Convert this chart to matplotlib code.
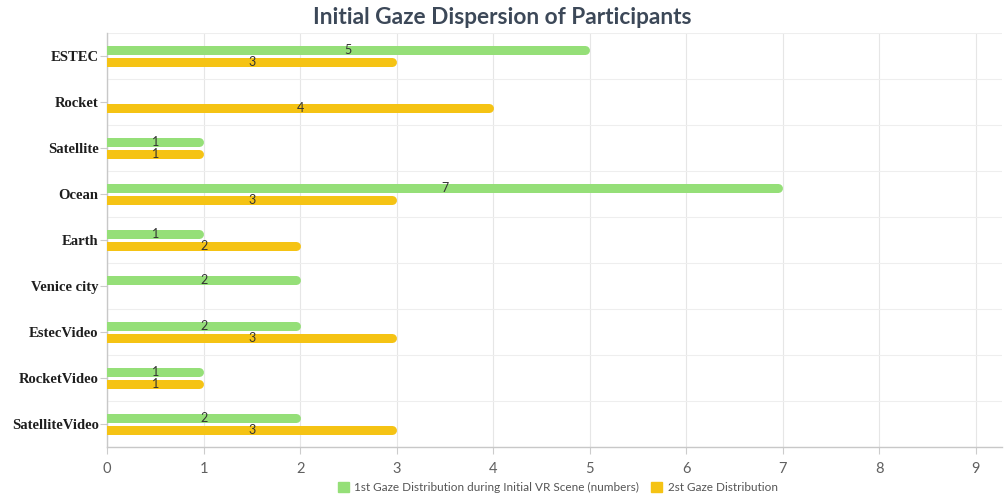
import numpy as np
import matplotlib
matplotlib.use("Agg")
import matplotlib.pyplot as plt
from matplotlib.patches import FancyBboxPatch

# data (top to bottom as shown)
categories = ["ESTEC", "Rocket", "Satellite", "Ocean", "Earth",
              "Venice city", "EstecVideo", "RocketVideo", "SatelliteVideo"]
first_gaze = [5, None, 1, 7, 1, 2, 2, 1, 2]
second_gaze = [3, 4, 1, 3, 2, None, 3, 1, 3]
series_names = ["1st Gaze Distribution during Initial VR Scene (numbers)",
                "2st Gaze Distribution"]
x_ticks = [0, 1, 2, 3, 4, 5, 6, 7, 8, 9]

green = "#95df78"
yellow = "#f5c314"

fig = plt.figure(figsize=(10.05, 5.04), dpi=100)
ax = fig.add_axes([0.1065, 0.113, 0.8905, 0.8215])

xmax = 9.27
ax.set_xlim(0, xmax)
n = len(categories)
ax.set_ylim(n - 0.5, -0.5)

# pixel geometry to get round end caps ending exactly at the value
ax_w_px = 0.8905 * 1005
px_per_unit = ax_w_px / xmax
bar_px = 9
lw_pt = bar_px * 72 / 100
cap = (bar_px / 2) / px_per_unit

y = np.arange(n)
offset = 0.13
for vals, col, dy in [(first_gaze, green, -offset), (second_gaze, yellow, offset)]:
    for yi, v in zip(y, vals):
        if v is None:
            continue
        ax.plot([-1, v - cap], [yi + dy, yi + dy], color=col, lw=lw_pt,
                solid_capstyle="round", zorder=3)
        ax.text(v / 2, yi + dy, str(v), ha="center", va="center",
                fontsize=9, color="#333333", family="Lato", zorder=4)

# grid
ax.set_xticks(x_ticks)
ax.set_xticklabels([str(t) for t in x_ticks], family="Lato", fontsize=10.5, color="#606060")
ax.set_yticks(y)
ax.set_yticklabels(categories, family="Liberation Serif", fontweight="bold",
                   fontsize=10.5, color="#1e1e1e")
ax.set_yticks(np.arange(n + 1) - 0.5, minor=True)
ax.tick_params(axis="y", which="minor", length=0)
ax.tick_params(axis="y", which="major", length=5, color="#cccccc", pad=1)
ax.tick_params(axis="x", length=5, color="#cccccc", pad=6)
ax.grid(axis="x", color="#e6e6e6", lw=0.8, zorder=0)
ax.grid(axis="y", which="minor", color="#eeeeee", lw=0.8, zorder=0)
ax.set_axisbelow(True)
for s in ["top", "right"]:
    ax.spines[s].set_visible(False)
for s in ["left", "bottom"]:
    ax.spines[s].set_color("#c8c8c8")
    ax.spines[s].set_linewidth(1)

fig.text(0.5, 0.965, "Initial Gaze Dispersion of Participants", ha="center", va="center",
         family="Lato", fontweight="bold", fontsize=16.3, color="#3c4858")

# legend
handles = [FancyBboxPatch((0, 0), 1, 1, boxstyle="round,pad=0.1", color=c) for c in (green, yellow)]
leg = fig.legend(handles, series_names, loc="center", bbox_to_anchor=(0.555, 0.032),
                 ncol=2, frameon=False, handlelength=0.9, handleheight=0.9,
                 handletextpad=0.5, columnspacing=1.0,
                 prop={"family": "Lato", "size": 8.5})
for t in leg.get_texts():
    t.set_color("#555555")

fig.savefig("out.png", dpi=100)
